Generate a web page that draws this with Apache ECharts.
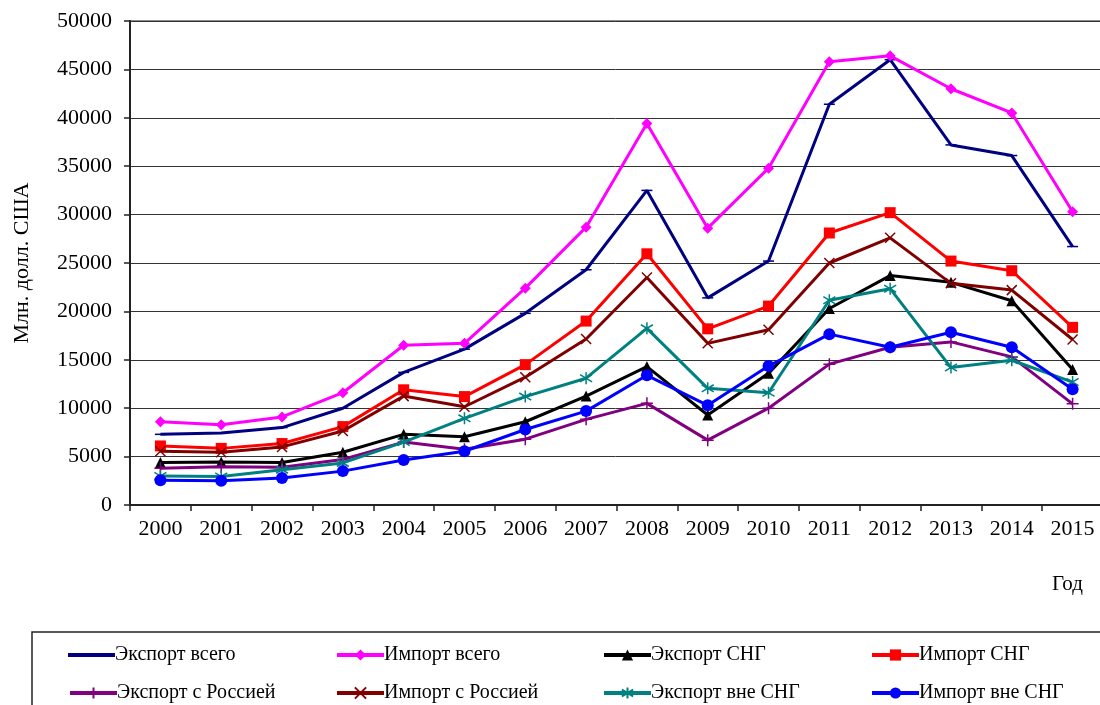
<!DOCTYPE html>
<html>
<head>
<meta charset="utf-8">
<script src="https://cdn.jsdelivr.net/npm/echarts@6/dist/echarts.min.js"></script>
<style>html,body{margin:0;padding:0;background:#fff;}#c{width:1100px;height:705px;}</style>
</head>
<body>
<div id="c"></div>
<script>
const years = ['2000','2001','2002','2003','2004','2005','2006','2007','2008','2009','2010','2011','2012','2013','2014','2015'];
const exportTotal  = [7300, 7450, 8000, 10000, 13700, 16100, 19800, 24300, 32500, 21400, 25200, 41400, 46000, 37200, 36100, 26700];
const importTotal  = [8600, 8300, 9100, 11600, 16500, 16700, 22400, 28700, 39400, 28600, 34800, 45800, 46400, 43000, 40500, 30300];
const exportCIS    = [4400, 4450, 4400, 5450, 7300, 7050, 8600, 11250, 14300, 9300, 13600, 20300, 23700, 23000, 21100, 14000];
const importCIS    = [6100, 5850, 6350, 8100, 11900, 11200, 14500, 19000, 25950, 18200, 20550, 28100, 30200, 25200, 24200, 18350];
const exportRussia = [3800, 3950, 3900, 4700, 6500, 5750, 6800, 8850, 10500, 6700, 10000, 14550, 16300, 16850, 15300, 10450];
const importRussia = [5550, 5450, 6000, 7650, 11250, 10150, 13200, 17150, 23500, 16700, 18100, 25000, 27600, 22900, 22200, 17100];
const exportNonCIS = [3000, 2950, 3650, 4350, 6500, 8950, 11200, 13100, 18250, 12050, 11600, 21150, 22350, 14200, 14950, 12700];
const importNonCIS = [2550, 2500, 2800, 3500, 4650, 5550, 7800, 9700, 13400, 10300, 14350, 17650, 16300, 17850, 16300, 11950];
const names = ['Экспорт всего','Импорт всего','Экспорт СНГ','Импорт СНГ','Экспорт с Россией','Импорт с Россией','Экспорт вне СНГ','Импорт вне СНГ'];

const FONT = '"Liberation Serif", "DejaVu Serif", serif';
const dashSym  = 'path://M0,4.3L10,4.3L10,5.7L0,5.7Z';
const plusSym  = 'path://M5,0L5,10M0,5L10,5';
const crossSym = 'path://M0,0L10,10M10,0L0,10';
const starSym  = 'path://M5,0L5,10M0,2L10,8M0,8L10,2';

const styles = [
  {data: exportTotal,  color:'#000080', symbol: dashSym, size:11, stroke:false},
  {data: importTotal,  color:'#FF00FF', symbol:'diamond', size:11, stroke:false},
  {data: exportCIS,    color:'#000000', symbol:'triangle', size:11, stroke:false},
  {data: importCIS,    color:'#FF0000', symbol:'rect', size:11, stroke:false},
  {data: exportRussia, color:'#800080', symbol: plusSym, size:12, stroke:true},
  {data: importRussia, color:'#800000', symbol: crossSym, size:10, stroke:true},
  {data: exportNonCIS, color:'#008080', symbol: starSym, size:12, stroke:true},
  {data: importNonCIS, color:'#0000FF', symbol:'circle', size:12, stroke:false}
];

const series = styles.map((s, i) => ({
  name: names[i],
  type: 'line',
  data: s.data,
  symbol: s.symbol,
  symbolSize: s.size,
  symbolKeepAspect: true,
  showAllSymbol: true,
  lineStyle: {color: s.color, width: 3},
  itemStyle: s.stroke ? {color: 'rgba(0,0,0,0)', borderColor: s.color, borderWidth: 1.5, opacity: 1}
                      : {color: s.color, borderWidth: 0},
  emphasis: {disabled: true},
  z: 2 + i
}));

const colX = [63, 330, 597, 865];
const rowY = [640, 678];
const legends = names.map((n, i) => ({
  data: i === 0 ? [{name: n, icon: 'rect'}] : [n],
  left: colX[i % 4],
  top: rowY[Math.floor(i / 4)],
  orient: 'horizontal',
  itemWidth: 47,
  itemHeight: i === 0 ? 4 : 14,
  lineStyle: {width: 4},
  textStyle: {fontFamily: FONT, fontSize: 20, color: '#000', padding: [0,0,0,-5]},
  selectedMode: false,
  inactiveColor: '#000'
}));

const chart = echarts.init(document.getElementById('c'), null, {renderer: 'canvas'});
chart.setOption({
  animation: false,
  backgroundColor: '#fff',
  grid: {left: 130, top: 21, width: 973, bottom: 200, show: true, borderColor: '#8a8a8a', borderWidth: 2, containLabel: false, outerBoundsMode: 'none'},
  legend: legends,
  xAxis: {
    type: 'category',
    data: years,
    boundaryGap: true,
    axisLine: {lineStyle: {color: '#222', width: 2}},
    axisTick: {show: true, inside: false, length: 6, lineStyle: {color: '#222', width: 1.5}},
    axisLabel: {fontFamily: FONT, fontSize: 22, color: '#000', margin: 13},
    splitLine: {show: false}
  },
  yAxis: {
    type: 'value',
    min: 0, max: 50000, interval: 5000,
    name: 'Млн. долл. США',
    nameLocation: 'middle',
    nameRotate: 90,
    nameGap: 97,
    nameTextStyle: {fontFamily: FONT, fontSize: 22, color: '#000'},
    axisLine: {show: true, lineStyle: {color: '#222', width: 2}},
    axisTick: {show: true, inside: false, length: 6, lineStyle: {color: '#222', width: 1.5}},
    axisLabel: {fontFamily: FONT, fontSize: 22, color: '#000', margin: 18, formatter: v => String(v)},
    splitLine: {show: true, lineStyle: {color: '#333', width: 1}}
  },
  graphic: [
    {type: 'rect', shape: {x: 32, y: 632, width: 1100, height: 100}, style: {fill: 'none', stroke: '#222', lineWidth: 1.5}, z: -1},
    {type: 'text', left: 1052, top: 574, style: {text: 'Год', font: '21px ' + FONT, fill: '#000'}}
  ],
  series: series
});
</script>
</body>
</html>
